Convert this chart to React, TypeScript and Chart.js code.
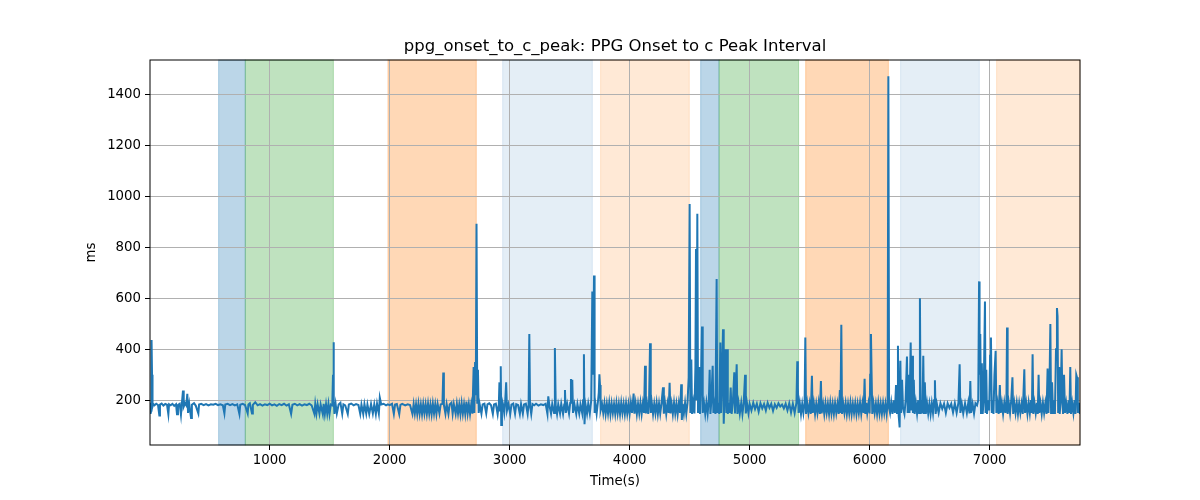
import { useEffect, useRef } from "react";
import { Chart, registerables } from "chart.js";

Chart.register(...registerables);

const TITLE = "ppg_onset_to_c_peak: PPG Onset to c Peak Interval";

// time (s) and interval (ms)
const times = [
  3, 8, 12, 16, 20, 24, 30, 40, 55, 70,
  81, 86, 100, 115, 130, 145, 156, 162, 175, 190,
  205, 220, 228, 236, 250, 261, 268, 278, 284, 295,
  305, 314, 320, 330, 345, 352, 370, 385, 406, 412,
  430, 450, 470, 490, 510, 530, 550, 570, 590, 610,
  623, 630, 650, 670, 690, 710, 730, 748, 755, 775,
  795, 817, 823, 835, 853, 860, 880, 900, 920, 940,
  960, 980, 1000, 1020, 1040, 1060, 1080, 1100, 1120, 1140,
  1160, 1179, 1190, 1210, 1230, 1250, 1270, 1290, 1310, 1330,
  1350, 1373, 1380, 1390, 1400, 1415, 1425, 1443, 1450, 1460,
  1470, 1480, 1490, 1499, 1510, 1522, 1528, 1532, 1536, 1540,
  1550, 1560, 1575, 1590, 1605, 1615, 1630, 1651, 1660, 1680,
  1700, 1720, 1740, 1755, 1765, 1780, 1790, 1805, 1815, 1830,
  1845, 1860, 1872, 1885, 1895, 1910, 1918, 1930, 1950, 1970,
  1985, 2000, 2020, 2035, 2045, 2060, 2080, 2090, 2105, 2130,
  2150, 2170, 2190, 2200, 2210, 2220, 2230, 2240, 2250, 2260,
  2270, 2280, 2290, 2300, 2310, 2320, 2330, 2340, 2350, 2360,
  2370, 2380, 2390, 2400, 2415, 2425, 2440, 2447, 2452, 2465,
  2475, 2490, 2500, 2515, 2525, 2535, 2550, 2560, 2570, 2580,
  2590, 2600, 2610, 2620, 2630, 2640, 2650, 2660, 2670, 2680,
  2690, 2700, 2706, 2712, 2718, 2724, 2730, 2736, 2742, 2750,
  2765, 2775, 2790, 2805, 2815, 2830, 2845, 2860, 2870, 2885,
  2900, 2910, 2915, 2920, 2926, 2930, 2936, 2945, 2955, 2962,
  2971, 2978, 2990, 3005, 3015, 3030, 3045, 3055, 3070, 3085,
  3095, 3110, 3120, 3135, 3150, 3158, 3164, 3170, 3180, 3190,
  3205, 3220, 3240, 3260, 3280, 3300, 3315, 3322, 3330, 3345,
  3355, 3370, 3377, 3384, 3395, 3405, 3420, 3430, 3445, 3455,
  3461, 3468, 3480, 3495, 3505, 3511, 3518, 3522, 3528, 3540,
  3555, 3565, 3580, 3590, 3605, 3612, 3619, 3624, 3632, 3645,
  3655, 3668, 3680, 3689, 3696, 3703, 3708, 3715, 3725, 3735,
  3743, 3748, 3753, 3758, 3770, 3780, 3790, 3800, 3810, 3820,
  3830, 3840, 3850, 3860, 3870, 3880, 3890, 3900, 3910, 3920,
  3930, 3940, 3950, 3960, 3970, 3980, 3990, 4000, 4010, 4020,
  4033, 4040, 4050, 4060, 4070, 4080, 4090, 4100, 4110, 4120,
  4128, 4135, 4145, 4155, 4162, 4170, 4176, 4185, 4195, 4205,
  4215, 4225, 4235, 4245, 4255, 4265, 4278, 4285, 4295, 4305,
  4315, 4325, 4333, 4340, 4350, 4360, 4370, 4380, 4390, 4400,
  4410, 4420, 4430, 4435, 4442, 4452, 4462, 4472, 4482, 4492,
  4500, 4506, 4514, 4520, 4530, 4540, 4548, 4553, 4558, 4564,
  4570, 4580, 4586, 4595, 4603, 4609, 4620, 4630, 4640, 4650,
  4660, 4667, 4673, 4680, 4692, 4698, 4708, 4715, 4725, 4730,
  4740, 4747, 4756, 4762, 4770, 4778, 4784, 4790, 4800, 4806,
  4812, 4818, 4826, 4834, 4842, 4850, 4860, 4872, 4878, 4892,
  4898, 4908, 4918, 4930, 4940, 4950, 4962, 4968, 4978, 4990,
  5000, 5015, 5030, 5045, 5060, 5075, 5090, 5105, 5120, 5135,
  5150, 5165, 5180, 5195, 5210, 5225, 5240, 5255, 5270, 5285,
  5300, 5315, 5330, 5345, 5360, 5375, 5390, 5397, 5402, 5408,
  5418, 5428, 5438, 5448, 5458, 5464, 5470, 5480, 5490, 5500,
  5510, 5519, 5525, 5535, 5545, 5555, 5565, 5575, 5585, 5594,
  5600, 5612, 5622, 5632, 5642, 5652, 5662, 5672, 5682, 5692,
  5702, 5712, 5722, 5732, 5742, 5752, 5757, 5764, 5770, 5780,
  5790, 5800, 5810, 5820, 5830, 5840, 5850, 5860, 5870, 5880,
  5890, 5900, 5910, 5920, 5930, 5940, 5950, 5958, 5964, 5972,
  5980, 5990, 6000, 6005, 6011, 6016, 6022, 6032, 6042, 6052,
  6062, 6072, 6082, 6092, 6102, 6112, 6122, 6132, 6142, 6150,
  6156, 6162, 6170, 6180, 6190, 6200, 6210, 6220, 6228, 6236,
  6242, 6250, 6256, 6262, 6270, 6278, 6290, 6300, 6311, 6317,
  6325, 6332, 6342, 6348, 6355, 6361, 6368, 6375, 6385, 6395,
  6405, 6412, 6419, 6425, 6432, 6440, 6447, 6453, 6460, 6468,
  6478, 6488, 6498, 6508, 6518, 6528, 6537, 6544, 6550, 6560,
  6575, 6590, 6605, 6620, 6635, 6650, 6665, 6680, 6695, 6710,
  6725, 6740, 6750, 6756, 6768, 6780, 6795, 6810, 6822, 6832,
  6839, 6845, 6858, 6870, 6882, 6895, 6905, 6912, 6916, 6922,
  6928, 6935, 6942, 6950, 6961, 6966, 6972, 6978, 6988, 6996,
  7004, 7011, 7018, 7026, 7032, 7040, 7050, 7056, 7065, 7075,
  7085, 7092, 7102, 7112, 7122, 7132, 7140, 7145, 7150, 7160,
  7170, 7180, 7190, 7196, 7206, 7216, 7226, 7236, 7246, 7256,
  7266, 7276, 7289, 7295, 7305, 7315, 7325, 7335, 7345, 7352,
  7358, 7364, 7374, 7384, 7394, 7401, 7408, 7414, 7424, 7434,
  7444, 7454, 7464, 7474, 7483, 7490, 7500, 7506, 7512, 7520,
  7528, 7536, 7544, 7553, 7561, 7566, 7571, 7578, 7584, 7592,
  7600, 7606, 7612, 7620, 7628, 7638, 7648, 7658, 7665, 7672,
  7678, 7688, 7698, 7708, 7715, 7722, 7728, 7735, 7745, 7752,
];

const intervalMs = [
  150, 190, 160, 437, 300, 175, 185, 180, 186, 181,
  140, 183, 187, 179, 185, 182, 145, 184, 180, 186,
  178, 184, 145, 181, 186, 143, 184, 238, 175, 188,
  180, 225, 150, 185, 130, 182, 188, 178, 148, 183,
  186, 181, 185, 180, 184, 182, 186, 181, 184, 180,
  148, 183, 186, 181, 185, 180, 184, 146, 182, 186,
  181, 148, 183, 188, 148, 182, 192, 180, 185, 179,
  184, 181, 186, 180, 184, 178, 185, 181, 186, 179,
  184, 146, 182, 186, 180, 185, 179, 184, 181, 186,
  180, 146, 185, 148, 184, 147, 183, 145, 186, 146,
  184, 147, 185, 146, 183, 180, 300, 428, 200, 146,
  185, 148, 183, 190, 147, 184, 180, 146, 183, 187,
  180, 185, 181, 146, 183, 146, 185, 147, 183, 146,
  185, 148, 184, 146, 186, 147, 210, 183, 186, 180,
  184, 181, 186, 146, 183, 185, 145, 182, 186, 180,
  184, 181, 146, 185, 148, 184, 146, 186, 147, 183,
  145, 185, 148, 184, 146, 186, 147, 183, 145, 187,
  148, 184, 146, 185, 148, 183, 186, 309, 182, 147,
  185, 146, 183, 190, 147, 184, 146, 186, 148, 183,
  145, 188, 147, 184, 146, 195, 148, 185, 146, 184,
  147, 330, 150, 350, 220, 893, 190, 320, 150, 185,
  147, 183, 186, 148, 184, 188, 180, 146, 183, 186,
  145, 185, 270, 160, 333, 103, 200, 183, 150, 186,
  270, 160, 184, 146, 183, 187, 147, 184, 181, 146,
  185, 147, 183, 186, 146, 184, 460, 180, 146, 185,
  180, 186, 179, 184, 181, 186, 146, 215, 183, 147,
  185, 150, 405, 180, 146, 184, 148, 186, 146, 183,
  240, 150, 185, 147, 190, 283, 230, 280, 150, 184,
  146, 185, 147, 183, 148, 200, 381, 106, 184, 147,
  186, 148, 200, 627, 300, 690, 150, 185, 147, 190,
  230, 302, 260, 160, 185, 150, 188, 146, 186, 148,
  190, 145, 187, 150, 185, 146, 189, 148, 186, 145,
  190, 150, 186, 146, 188, 148, 185, 146, 190, 150,
  226, 147, 188, 146, 186, 149, 190, 146, 187, 150,
  335, 148, 186, 146, 200, 424, 150, 188, 146, 186,
  149, 190, 146, 187, 148, 186, 251, 147, 188, 146,
  186, 150, 269, 148, 186, 146, 190, 148, 186, 145,
  188, 150, 263, 122, 186, 148, 190, 146, 188, 290,
  971, 150, 360, 146, 190, 148, 330, 794, 200, 933,
  150, 330, 146, 280, 490, 150, 188, 146, 190, 148,
  200, 320, 146, 190, 335, 150, 186, 146, 676, 150,
  190, 146, 427, 150, 300, 479, 108, 200, 400, 150,
  400, 146, 190, 150, 250, 146, 190, 310, 148, 341,
  146, 188, 148, 190, 146, 186, 300, 148, 188, 150,
  186, 160, 190, 165, 186, 155, 188, 168, 185, 160,
  190, 170, 186, 158, 184, 170, 188, 175, 183, 168,
  186, 160, 188, 152, 186, 150, 190, 353, 250, 150,
  188, 146, 186, 150, 190, 446, 146, 188, 150, 186,
  146, 296, 150, 188, 146, 186, 150, 190, 146, 275,
  148, 186, 146, 188, 150, 186, 146, 190, 148, 186,
  146, 188, 150, 186, 146, 240, 150, 497, 146, 186,
  150, 188, 146, 186, 148, 190, 146, 186, 150, 188,
  146, 186, 150, 190, 146, 188, 150, 284, 146, 190,
  150, 186, 148, 300, 460, 310, 146, 188, 150, 186,
  146, 190, 148, 186, 146, 188, 150, 186, 146, 190,
  1473, 170, 150, 190, 146, 200, 150, 260, 150, 414,
  140, 93, 355, 150, 280, 170, 146, 200, 372, 150,
  300, 150, 427, 160, 375, 150, 280, 146, 190, 148,
  200, 150, 601, 146, 200, 148, 375, 150, 270, 146,
  188, 148, 186, 146, 188, 150, 200, 278, 146, 186,
  150, 188, 166, 186, 150, 188, 170, 186, 152, 188,
  150, 190, 341, 150, 186, 148, 188, 150, 190, 148,
  275, 150, 186, 148, 188, 180, 200, 667, 300, 460,
  150, 345, 146, 200, 588, 150, 320, 146, 200, 160,
  375, 446, 150, 200, 146, 300, 394, 150, 188, 146,
  260, 150, 188, 146, 190, 150, 200, 486, 146, 188,
  150, 200, 290, 146, 188, 150, 190, 146, 188, 150,
  186, 146, 322, 150, 188, 146, 190, 150, 200, 150,
  381, 146, 188, 150, 190, 146, 300, 150, 188, 146,
  190, 150, 188, 146, 325, 150, 300, 499, 146, 270,
  150, 200, 146, 400, 562, 530, 150, 330, 146, 200,
  400, 200, 146, 300, 150, 188, 146, 200, 150, 330,
  146, 188, 150, 200, 146, 300, 290, 150, 190, 146,
];

// shaded protocol phases: start, end (s)
const spanStarts = [575, 797, 1986, 2942, 3758, 4592, 4745, 5467, 6258, 7058];
const spanEnds = [797, 1531, 2722, 3689, 4497, 4745, 5408, 6156, 6914, 7753];
const spanColors = [
  "rgba(31,119,180,0.3)",
  "rgba(44,160,44,0.3)",
  "rgba(255,127,14,0.3)",
  "rgba(31,119,180,0.12)",
  "rgba(255,127,14,0.17)",
  "rgba(31,119,180,0.3)",
  "rgba(44,160,44,0.3)",
  "rgba(255,127,14,0.3)",
  "rgba(31,119,180,0.12)",
  "rgba(255,127,14,0.17)",
];

const xTicks = [1000, 2000, 3000, 4000, 5000, 6000, 7000];
const yTicks = [200, 400, 600, 800, 1000, 1200, 1400];

const FONT = "'DejaVu Sans', sans-serif";

const spansPlugin = {
  id: "spans",
  beforeDraw(chart: any) {
    const { ctx, chartArea, scales } = chart;
    ctx.save();
    spanStarts.forEach((s, i) => {
      const x0 = scales.x.getPixelForValue(s);
      const x1 = scales.x.getPixelForValue(spanEnds[i]);
      ctx.fillStyle = spanColors[i];
      ctx.fillRect(x0, chartArea.top, x1 - x0, chartArea.bottom - chartArea.top);
      ctx.strokeStyle = spanColors[i];
      ctx.lineWidth = 1;
      ctx.strokeRect(x0, chartArea.top, x1 - x0, chartArea.bottom - chartArea.top);
    });
    ctx.restore();
  },
  afterDraw(chart: any) {
    const { ctx, chartArea } = chart;
    ctx.save();
    ctx.strokeStyle = "#000";
    ctx.lineWidth = 1;
    ctx.strokeRect(
      chartArea.left,
      chartArea.top,
      chartArea.right - chartArea.left,
      chartArea.bottom - chartArea.top,
    );
    ctx.fillStyle = "#000";
    ctx.font = `16.5px ${FONT}`;
    ctx.textAlign = "center";
    ctx.textBaseline = "middle";
    ctx.fillText(TITLE, (chartArea.left + chartArea.right) / 2, chartArea.top - 13);
    ctx.restore();
  },
};

export default function App() {
  const canvasRef = useRef<HTMLCanvasElement | null>(null);

  useEffect(() => {
    if (!canvasRef.current) return;
    const points = times.map((t, i) => ({ x: t, y: intervalMs[i] }));

    const chart = new Chart(canvasRef.current, {
      type: "line",
      data: {
        datasets: [
          {
            data: points,
            borderColor: "#1f77b4",
            borderWidth: 2,
            pointRadius: 0,
            tension: 0,
          },
        ],
      },
      options: {
        animation: false,
        responsive: false,
        parsing: false,
        layout: { padding: { left: 84, right: 120, top: 60, bottom: 10 } },
        plugins: {
          legend: { display: false },
          tooltip: { enabled: false },
          title: { display: false },
        },
        scales: {
          x: {
            type: "linear",
            min: 3,
            max: 7753,
            afterBuildTicks: (scale: any) => {
              scale.ticks = xTicks.map((v) => ({ value: v }));
            },
            afterFit: (scale: any) => {
              scale.height = 45;
            },
            grid: {
              color: "#b0b0b0",
              lineWidth: 1,
              tickColor: "#000",
              tickLength: 5,
            },
            border: { display: false },
            ticks: {
              color: "#000",
              font: { family: FONT, size: 13.3 },
              padding: 3,
              maxRotation: 0,
              callback: (v: any) => String(v),
            },
            title: {
              display: true,
              text: "Time(s)",
              color: "#000",
              font: { family: FONT, size: 13.3 },
              padding: 0,
            },
          },
          y: {
            type: "linear",
            min: 24,
            max: 1537,
            afterBuildTicks: (scale: any) => {
              scale.ticks = yTicks.map((v) => ({ value: v }));
            },
            afterFit: (scale: any) => {
              scale.width = 66;
            },
            grid: {
              color: "#b0b0b0",
              lineWidth: 1,
              tickColor: "#000",
              tickLength: 5,
            },
            border: { display: false },
            ticks: {
              color: "#000",
              font: { family: FONT, size: 13.3 },
              padding: 4,
              callback: (v: any) => String(v),
            },
            title: {
              display: true,
              text: "ms",
              color: "#000",
              font: { family: FONT, size: 13.3 },
              padding: 0,
            },
          },
        },
      },
      plugins: [spansPlugin],
    });

    return () => chart.destroy();
  }, []);

  return (
    <div style={{ width: 1200, height: 500 }}>
      <style>{`body { margin: 0; }`}</style>
      <canvas ref={canvasRef} width={1200} height={500} />
    </div>
  );
}
